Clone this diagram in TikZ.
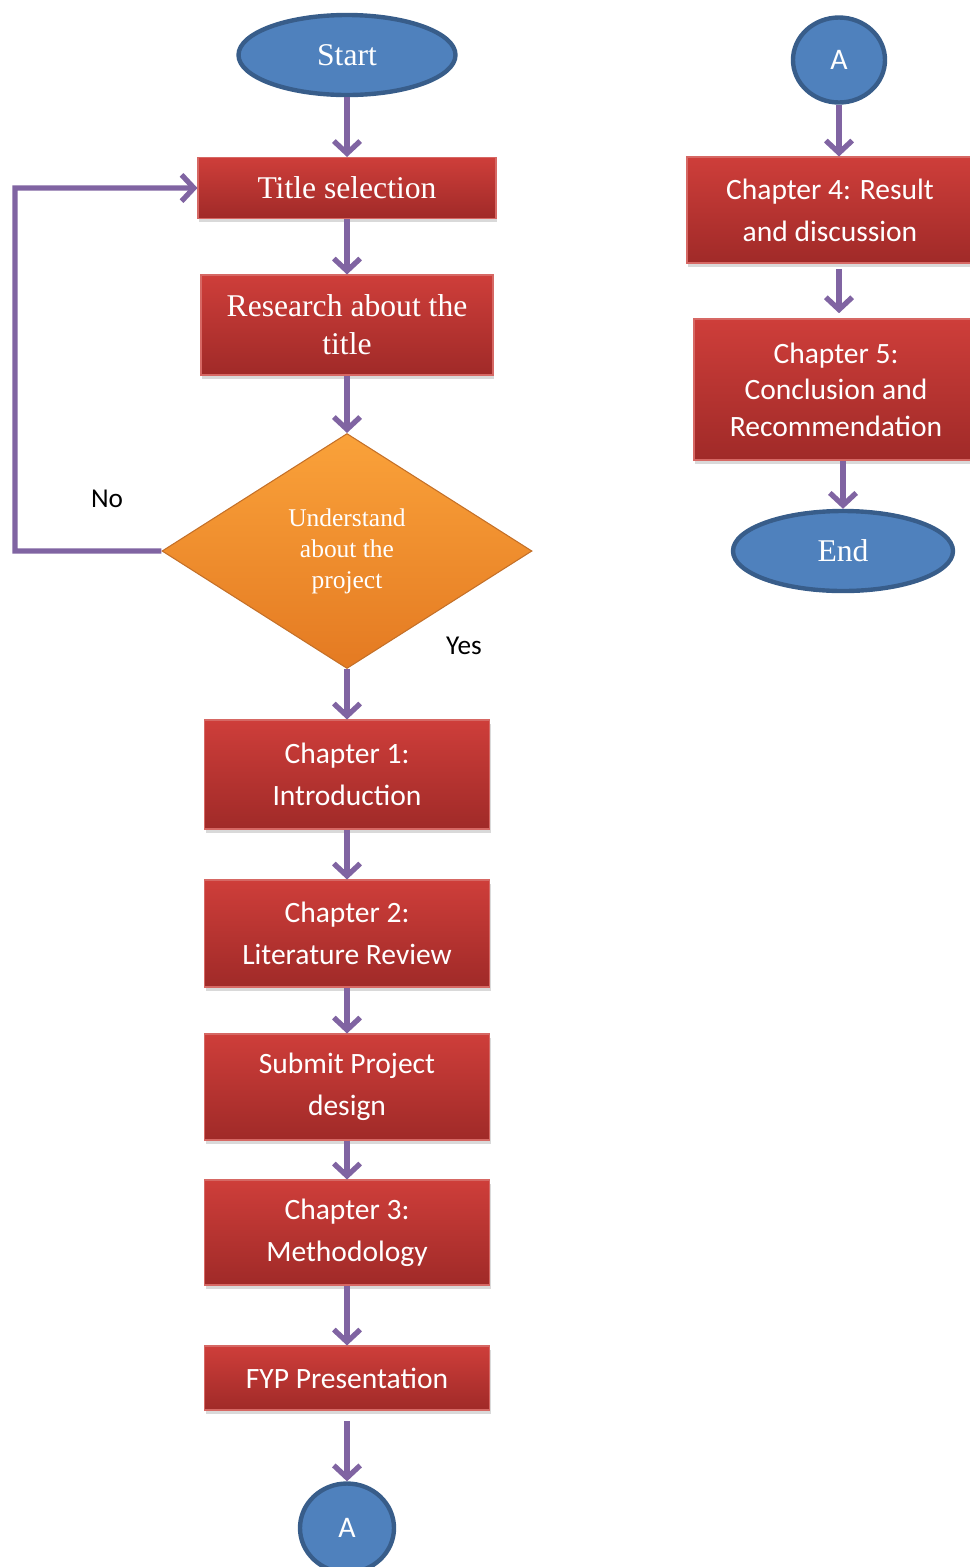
\documentclass[tikz,border=0pt]{standalone}
\usepackage{fontspec}
\setmainfont{Liberation Serif}
\newfontfamily\calibri{Carlito}
\usetikzlibrary{shapes.geometric,arrows.meta,shadows}

\definecolor{flowpurple}{RGB}{128,100,162}
\definecolor{termfill}{RGB}{79,129,189}
\definecolor{termline}{RGB}{56,93,138}
\definecolor{boxtop}{RGB}{206,62,58}
\definecolor{boxbottom}{RGB}{160,42,40}
\definecolor{boxline}{RGB}{214,104,100}
\definecolor{decidetop}{RGB}{250,162,58}
\definecolor{decidebottom}{RGB}{228,122,34}
\definecolor{decideline}{RGB}{196,112,40}

\newcommand{\serifbig}{\fontsize{18}{21.6}\selectfont}
\newcommand{\chapfont}{\calibri\fontsize{16.8}{24}\selectfont}

\begin{document}
\begin{tikzpicture}[node distance=3cm,
  term/.style={ellipse,draw=termline,line width=2.5pt,fill=termfill,text=white,inner sep=0pt},
  proc/.style={rectangle,draw=boxline,line width=0.6pt,top color=boxtop,bottom color=boxbottom,
    text=white,align=center,inner sep=0pt,minimum width=5.7cm,font=\chapfont,
    drop shadow={opacity=0.3,shadow xshift=0.6pt,shadow yshift=-2.2pt}},
  decide/.style={diamond,draw=decideline,line width=0.6pt,top color=decidetop,bottom color=decidebottom,
    text=white,align=center,inner sep=0pt,minimum width=7.4cm,minimum height=4.7cm,
    font=\fontsize{14.5}{17.6}\selectfont},
  flow/.style={draw=flowpurple,line width=3pt,-{Straight Barb[length=7pt,width=15pt]}},
  lbl/.style={font=\calibri\fontsize{15.5}{18}\selectfont}]
\useasboundingbox (0,0) rectangle (19.4,-31.34);

% left column
\node[term,minimum width=4.34cm,minimum height=1.6cm,font=\serifbig] (start) at (6.94,-1.1) {Start};
\node[proc,minimum width=5.96cm,minimum height=1.22cm,font=\serifbig] (title) [below of=start,node distance=2.66cm] {Title selection};
\node[proc,minimum width=5.84cm,minimum height=2cm,font=\serifbig] (research) [below of=title,node distance=2.74cm] {Research about the\\title};
\node[decide] (check) [below of=research,node distance=4.52cm] {Understand\\about the\\project};
\node[proc,minimum height=2.18cm] (chone) [below of=check,node distance=4.47cm] {Chapter 1:\\Introduction};
\node[proc,minimum height=2.14cm] (chtwo) [below of=chone,node distance=3.18cm] {Chapter 2:\\Literature Review};
\node[proc,minimum height=2.12cm] (submit) [below of=chtwo,node distance=3.07cm] {Submit Project\\design};
\node[proc,minimum height=2.1cm] (chthree) [below of=submit,node distance=2.91cm] {Chapter 3:\\Methodology};
\node[proc,minimum height=1.28cm] (fyp) [below of=chthree,node distance=2.91cm] {FYP Presentation};
\node[term,minimum width=1.88cm,minimum height=1.78cm,font=\calibri\fontsize{17}{20}\selectfont] (Abot) [below of=fyp,node distance=3cm] {A};

% right column
\node[term,minimum width=1.84cm,minimum height=1.7cm,font=\calibri\fontsize{17}{20}\selectfont] (Atop) at (16.78,-1.2) {A};
\node[proc,minimum width=5.72cm,minimum height=2.12cm] (chfour) at (16.6,-4.2) {Chapter 4: Result\\and discussion};
\node[proc,minimum width=5.68cm,minimum height=2.82cm,font=\calibri\fontsize{16.8}{20.8}\selectfont] (chfive) at (16.72,-7.79) {Chapter 5:\\Conclusion and\\Recommendation};
\node[term,minimum width=4.4cm,minimum height=1.6cm,font=\serifbig] (stop) at (16.86,-11.02) {End};

\node[lbl] (no) at (2.14,-9.98) {No};
\node[lbl] (yes) at (9.28,-12.92) {Yes};
\coordinate (back) at (0.3,-11.02);

\path[every edge/.style={flow}]
(start) edge (title)
(title) edge (research)
(research) edge (check)
(check) edge (chone)
(chone) edge (chtwo)
(chtwo) edge (submit)
(submit) edge (chthree)
(chthree) edge (fyp)
(fyp) edge[shorten <=6pt] (Abot)
(Atop) edge (Atop |- chfour.north)
(chfour.south -| Atop) edge[shorten <=3pt,shorten >=3pt] (chfive.north -| Atop)
(chfive.south -| stop) edge (stop);
\draw[flow] (check.west) -- (back) |- (title.west);
\end{tikzpicture}
\end{document}
